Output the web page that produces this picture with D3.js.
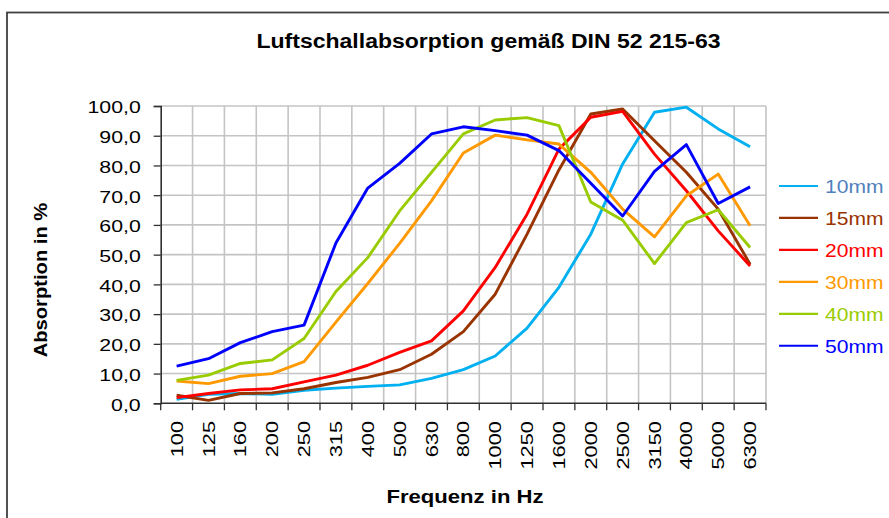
<!DOCTYPE html>
<html><head><meta charset="utf-8">
<script src="https://cdn.jsdelivr.net/npm/d3@7"></script>
<style>body{margin:0;background:#fff;} svg{display:block;font-family:"Liberation Sans",Arial,sans-serif;}</style>
</head><body><svg id="c" width="889" height="518"></svg>
<script>
const categories = ["100","125","160","200","250","315","400","500","630","800","1000","1250","1600","2000","2500","3150","4000","5000","6300"];
const s10mm = [1.3, 3.0, 3.3, 3.0, 4.4, 5.1, 5.7, 6.2, 8.4, 11.3, 15.9, 25.3, 39.0, 56.9, 80.5, 97.9, 99.6, 92.3, 86.3];
const s15mm = [2.7, 1.0, 3.3, 3.5, 4.9, 7.0, 8.7, 11.3, 16.5, 24.1, 36.7, 56.9, 78.5, 97.3, 99.0, 88.3, 77.7, 65.3, 46.8];
const s20mm = [1.9, 3.3, 4.5, 4.9, 7.2, 9.5, 12.8, 17.1, 21.0, 31.1, 45.7, 63.6, 85.5, 96.2, 98.2, 83.8, 71.5, 58.0, 46.2];
const s30mm = [7.5, 6.6, 9.1, 10.0, 14.0, 27.3, 40.3, 53.8, 68.1, 84.2, 90.2, 88.6, 87.2, 77.7, 65.3, 56.0, 69.8, 77.1, 59.7];
const s40mm = [7.7, 9.5, 13.4, 14.6, 21.8, 37.6, 49.0, 64.7, 77.7, 90.6, 95.3, 96.1, 93.4, 67.7, 61.6, 47.0, 60.8, 65.1, 52.4];
const s50mm = [12.5, 15.0, 20.4, 24.1, 26.3, 53.9, 72.4, 80.7, 90.6, 93.0, 91.7, 90.2, 85.0, 74.0, 63.0, 78.0, 87.0, 67.2, 72.8];
const seriesNames = ["10mm","15mm","20mm","30mm","40mm","50mm"];
const seriesColors = ["#00b0f0","#993300","#ff0000","#ff9900","#99cc00","#0000ff"];
const legendTextColors = ["#4f81bd","#993300","#ff0000","#ff9900","#99cc00","#0000ff"];
const yTicks = [0,10,20,30,40,50,60,70,80,90,100];
const title = "Luftschallabsorption gemäß DIN 52 215-63";
const xTitle = "Frequenz in Hz";
const yTitle = "Absorption in %";

const series = [s10mm, s15mm, s20mm, s30mm, s40mm, s50mm];
const svg = d3.select("#c");
const L = 160.7, R = 766, T = 106, B = 403.3;

function stretch(sel, f){
  sel.each(function(){
    const l = this.getComputedTextLength();
    this.setAttribute("textLength", (l*f).toFixed(1));
    this.setAttribute("lengthAdjust","spacingAndGlyphs");
  });
}

// outer frame
svg.append("rect").attr("x",7).attr("y",12.5).attr("width",1000).attr("height",1000)
  .attr("fill","none").attr("stroke","#404040").attr("stroke-width",1.8);

const x = d3.scaleBand().domain(categories).range([L,R]).paddingInner(0).paddingOuter(0);
const y = d3.scaleLinear().domain([0,100]).range([B,T]);

// grid
const g = svg.append("g");
g.selectAll("line.h").data(yTicks.filter(d=>d>0)).join("line")
  .attr("x1",L).attr("x2",R).attr("y1",d=>y(d)).attr("y2",d=>y(d))
  .attr("stroke","#c4c4c4").attr("stroke-width",1.6);
const bounds = categories.map(c=>x(c)+x.bandwidth());
g.selectAll("line.v").data(bounds).join("line")
  .attr("x1",d=>d).attr("x2",d=>d).attr("y1",T).attr("y2",B)
  .attr("stroke","#c4c4c4").attr("stroke-width",1.6);

// y axis
const yAxis = svg.append("g").attr("transform",`translate(${L},0)`)
  .call(d3.axisLeft(y).tickValues(yTicks).tickSize(7).tickPadding(13)
    .tickFormat(d=>d3.format(".1f")(d).replace(".",",")));
yAxis.select(".domain").attr("stroke","#303030").attr("stroke-width",1.6);
yAxis.selectAll(".tick line").attr("stroke","#303030").attr("stroke-width",1.3);
yAxis.selectAll(".tick text").attr("font-size",17).attr("fill","#000")
  .attr("font-family","Liberation Sans, Arial, sans-serif").attr("dy","0.4em");
stretch(yAxis.selectAll(".tick text"), 1.25);

// x axis line + ticks
svg.append("line").attr("x1",L).attr("x2",R).attr("y1",B).attr("y2",B)
  .attr("stroke","#303030").attr("stroke-width",1.6);
svg.selectAll("line.xt").data([L].concat(bounds)).join("line")
  .attr("x1",d=>d).attr("x2",d=>d).attr("y1",B).attr("y2",B+7)
  .attr("stroke","#303030").attr("stroke-width",1.3);
const xl = svg.selectAll("text.xl").data(categories).join("text")
  .attr("transform",d=>`translate(${x(d)+x.bandwidth()/2},421) rotate(-90)`)
  .attr("text-anchor","end").attr("dy","0.35em").attr("font-size",17.3).attr("fill","#000")
  .text(d=>d);
stretch(xl, 1.26);

// lines
const line = d3.line().x((d,i)=>x(categories[i])+x.bandwidth()/2).y(d=>y(d));
svg.selectAll("path.s").data(series).join("path")
  .attr("d",line).attr("fill","none")
  .attr("stroke",(d,i)=>seriesColors[i]).attr("stroke-width",2.9)
  .attr("stroke-linejoin","round");

// legend
const lg = svg.selectAll("g.lg").data(seriesNames).join("g")
  .attr("transform",(d,i)=>`translate(779,${186+i*31.95})`);
lg.append("line").attr("x1",0).attr("x2",39).attr("stroke",(d,i)=>seriesColors[i]).attr("stroke-width",2.2);
const lt = lg.append("text").attr("x",46).attr("dy","0.36em").attr("font-size",18.8)
  .attr("fill",(d,i)=>legendTextColors[i]).text(d=>d);
stretch(lt, 1.12);

// titles
const t1 = svg.append("text").attr("x",488.5).attr("y",48).attr("text-anchor","middle")
  .attr("font-size",20).attr("font-weight","bold").text(title);
stretch(t1, 1.15);
const t2 = svg.append("text").attr("x",465).attr("y",503).attr("text-anchor","middle")
  .attr("font-size",17.7).attr("font-weight","bold").text(xTitle);
stretch(t2, 1.25);
const t3 = svg.append("text").attr("transform","translate(47,280) rotate(-90)").attr("text-anchor","middle")
  .attr("font-size",18).attr("font-weight","bold").text(yTitle);
stretch(t3, 1.12);
</script></body></html>
